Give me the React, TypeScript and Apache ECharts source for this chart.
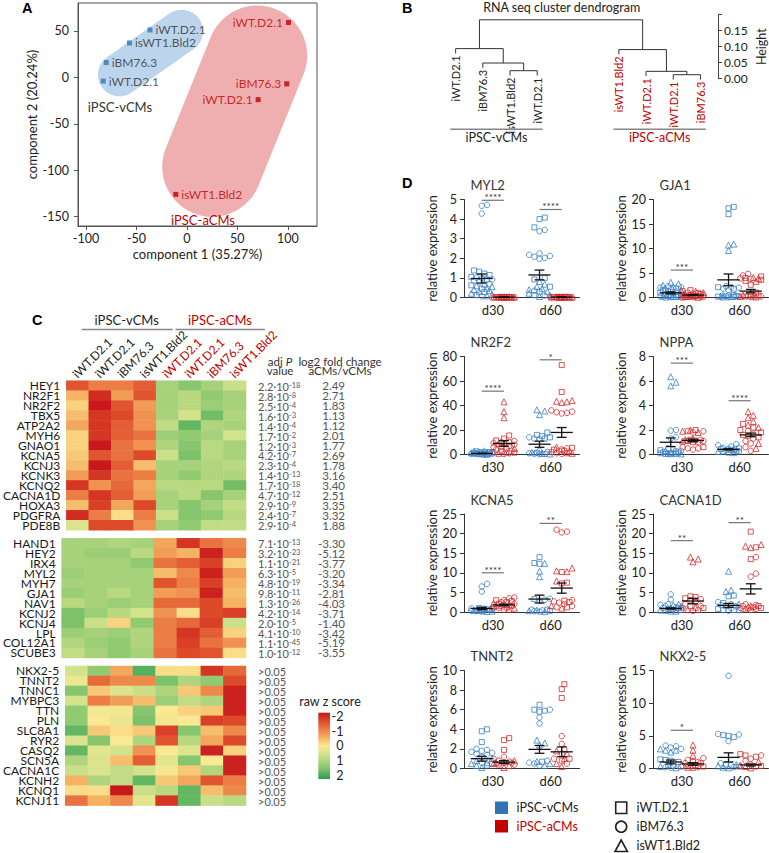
import React, { useEffect, useRef } from "react";
import * as echarts from "echarts";

const FONT = "Lato, 'Open Sans', 'Noto Sans', sans-serif";
const BLUE = "#2e75b6";
const RED = "#c00000";
const PT_BLUE = "#3a7fc4";
const PT_RED = "#d42a2a";
const TXT = "#222222";

// ---------------- Panel A: PCA ----------------
const pcaSamples = ["iWT.D2.1", "isWT1.Bld2", "iBM76.3", "iWT.D2.1", "iWT.D2.1", "iBM76.3", "iWT.D2.1", "isWT1.Bld2"];
const pcaGroups = ["v", "v", "v", "v", "a", "a", "a", "a"];
const pcaComp1 = [-36.6, -57, -80, -83, 100.7, 99, 70.6, -11];
const pcaComp2 = [51, 37, 16, -4, 59, -7, -24, -126];
const pcaLabelSide = ["right", "right", "right", "right", "left", "left", "left", "right"];
const pcaXTicks = [-100, -50, 0, 50, 100];
const pcaYTicks = [-150, -100, -50, 0, 50];
const pcaClusterNames = ["iPSC-vCMs", "iPSC-aCMs"];
const pcaClusterCentre1 = [-36.1, 47.4];
const pcaClusterCentre2 = [26.2, -36.4];
const pcaClusterLabel1 = [-66.4, 15.9];
const pcaClusterLabel2 = [-32, -153.6];

// ---------------- Panel B: dendrogram ----------------
const dendroLeafLabels = ["iWT.D2.1", "iBM76.3", "isWT1.Bld2", "iWT.D2.1", "isWT1.Bld2", "iWT.D2.1", "iWT.D2.1", "iBM76.3"];
const dendroLeafGroups = ["v", "v", "v", "v", "a", "a", "a", "a"];
const dendroLeafOrder = [0, 1, 2, 3, 6, 7, 8, 9];
const dendroMergeLeft = [-3, -2, -1, -7, -6, -5, 3];
const dendroMergeRight = [-4, 1, 2, -8, 4, 5, 6];
const dendroMergeHeight = [0.025, 0.049, 0.094, 0.0125, 0.023, 0.091, 0.184];
const dendroHang = 0.015;
const dendroGroupNames = ["iPSC-vCMs", "iPSC-aCMs"];
const dendroGroupFrom = [-0.2, 5.8];
const dendroGroupTo = [3.2, 9.2];

// ---------------- Panel C: heatmap ----------------
const heatSamples = ["iWT.D2.1", "iWT.D2.1", "iBM76.3", "isWT1.Bld2", "iWT.D2.1", "iWT.D2.1", "iBM76.3", "isWT1.Bld2"];
const heatSampleGroups = ["v", "v", "v", "v", "a", "a", "a", "a"];
const genesUp = ["HEY1", "NR2F1", "NR2F2", "TBX5", "ATP2A2", "MYH6", "GNAO1", "KCNA5", "KCNJ3", "KCNK3", "KCNQ2", "CACNA1D", "HOXA3", "PDGFRA", "PDE8B"];
const zUp = [
  [-1.4, -1.0, -1.0, -1.3, 1.0, 1.3, 1.0, 0.6],
  [-0.5, -1.8, -0.7, -1.4, 1.0, 0.8, 1.2, 1.0],
  [-0.2, -2.0, -1.4, -0.7, 1.0, 0.8, 1.1, 1.0],
  [-0.4, -1.7, -1.5, -0.8, 1.0, 0.5, 1.5, 0.9],
  [-0.6, -1.7, -1.3, -0.8, 0.7, 1.6, 0.9, 1.0],
  [-0.2, -1.7, -1.3, -1.1, 1.1, 1.2, 1.0, 0.5],
  [-0.2, -2.0, -1.1, -0.8, 0.9, 1.3, 0.8, 1.0],
  [-0.3, -1.4, -1.1, -1.5, 0.6, 1.4, 0.8, 1.0],
  [-0.4, -2.0, -1.3, -0.4, 1.0, 1.0, 0.9, 0.8],
  [-0.7, -1.7, -1.1, -1.0, 1.0, 1.2, 0.9, 0.9],
  [-1.7, -0.8, -1.2, -0.6, 0.8, 0.8, 0.8, 1.5],
  [-1.0, -1.7, -1.3, -0.7, 1.0, 0.8, 1.3, 1.0],
  [-0.4, -1.6, -0.6, -1.5, 1.0, 1.3, 1.0, 0.7],
  [-1.8, -1.0, -0.1, -1.0, 0.6, 1.3, 1.2, 0.8],
  [0.4, -1.5, -1.5, -0.8, 1.0, 1.2, 0.7, 0.7],
];
const pUp = ["2.2e-18", "2.8e-8", "2.5e-4", "1.6e-3", "1.4e-4", "1.7e-2", "1.2e-3", "4.2e-7", "2.3e-4", "1.4e-13", "1.7e-18", "4.7e-12", "2.9e-9", "2.4e-7", "2.9e-4"];
const fcUp = ["2.49", "2.71", "1.83", "1.13", "1.12", "2.01", "1.77", "2.69", "1.78", "3.16", "3.40", "2.51", "3.35", "3.32", "1.88"];

const genesDown = ["HAND1", "HEY2", "IRX4", "MYL2", "MYH7", "GJA1", "NAV1", "KCNJ2", "KCNJ4", "LPL", "COL12A1", "SCUBE3"];
const zDown = [
  [1.0, 1.0, 0.9, 1.0, -0.6, -1.7, -1.1, -0.9],
  [1.0, 1.1, 1.1, 0.8, -0.7, -0.5, -1.9, -1.0],
  [1.0, 1.0, 1.0, 1.2, -1.1, -1.3, -1.6, -0.2],
  [1.1, 1.0, 1.0, 1.0, -0.4, -0.9, -1.9, -0.7],
  [1.0, 1.0, 1.0, 1.0, -1.4, -1.0, -1.6, -0.5],
  [1.1, 1.0, 0.8, 1.0, -0.7, -0.8, -1.9, -0.4],
  [0.8, 1.0, 1.1, 1.0, -1.2, -1.2, -1.5, -0.5],
  [1.4, 1.1, 0.8, 0.5, -0.8, -0.1, -1.5, -1.6],
  [1.4, 0.6, -0.2, 1.2, -1.0, -1.2, -1.6, 0.6],
  [1.1, 1.0, 1.1, 0.9, -1.0, -1.7, -1.3, -0.2],
  [0.9, 1.1, 1.2, 0.9, -1.0, -1.6, -1.1, -0.8],
  [0.7, 1.0, 1.2, 1.0, -1.1, -1.5, -1.4, -0.1],
];
const pDown = ["7.1e-13", "3.2e-23", "1.1e-21", "6.3e-5", "4.8e-19", "9.8e-11", "1.3e-26", "4.2e-14", "2.0e-5", "4.1e-10", "1.1e-45", "1.0e-12"];
const fcDown = ["-3.30", "-5.12", "-3.77", "-3.20", "-3.34", "-2.81", "-4.03", "-3.71", "-1.40", "-3.42", "-5.19", "-3.55"];

const genesNS = ["NKX2-5", "TNNT2", "TNNC1", "MYBPC3", "TTN", "PLN", "SLC8A1", "RYR2", "CASQ2", "SCN5A", "CACNA1C", "KCNH2", "KCNQ1", "KCNJ11"];
const zNS = [
  [0.5, 1.2, -0.6, 1.7, -0.1, -0.1, -1.7, -1.2],
  [0.2, -1.2, -0.9, -0.9, 1.4, 0.9, 1.2, -1.5],
  [1.3, -0.3, 0.4, 0.6, 0.9, -0.3, -0.9, -1.9],
  [0.5, -1.0, -0.7, -0.4, 1.1, 0.7, 0.9, -1.9],
  [1.2, 0.1, 0.1, 1.3, 0.0, -0.2, -0.3, -1.9],
  [1.2, 0.0, 0.2, 1.4, 0.1, 0.0, -1.6, -1.5],
  [1.6, -0.3, -0.1, -0.3, -1.6, 1.3, -0.4, -0.9],
  [0.4, 1.3, 0.0, 0.9, -1.4, 0.8, -0.6, -1.5],
  [1.6, 0.3, 0.5, -0.8, 0.0, 0.4, -1.9, -0.2],
  [0.9, 0.4, -0.4, -1.3, 0.3, 1.3, 0.0, -1.9],
  [0.6, 0.4, 0.7, 0.5, 0.1, -0.3, 0.9, -1.9],
  [-0.5, 0.9, 0.7, 1.6, -0.3, -0.6, -1.4, -1.0],
  [-0.1, -0.1, -2.0, 0.6, 0.8, 1.6, -0.4, -0.9],
  [-1.1, -0.5, -0.9, 0.3, -1.7, 1.6, 0.6, 0.8],
];
const pNS = [">0.05", ">0.05", ">0.05", ">0.05", ">0.05", ">0.05", ">0.05", ">0.05", ">0.05", ">0.05", ">0.05", ">0.05", ">0.05", ">0.05"];
const fcNS = ["", "", "", "", "", "", "", "", "", "", "", "", "", ""];
const heatLegendTicks = [-2, -1, 0, 1, 2];
const heatColors = ["#c8181c", "#dd4a2a", "#ec7d45", "#f5b262", "#fbe893", "#d3e38b", "#a7d27b", "#72bd65", "#2a9d56"];

// ---------------- Panel D: qPCR ----------------
const dGenes = ["MYL2", "GJA1", "NR2F2", "NPPA", "KCNA5", "CACNA1D", "TNNT2", "NKX2-5"];
const dYMax = [5, 20, 80, 8, 25, 25, 10, 15];
const dYStep = [1, 5, 20, 2, 5, 5, 2, 5];
const dTimepoints = ["d30", "d60"];
const dLines = ["iWT.D2.1", "iBM76.3", "isWT1.Bld2"];
// each: [v30, a30, v60, a60], each group: [iWT.D2.1 squares, iBM76.3 circles, isWT1.Bld2 triangles]
const ptsMYL2 = [
  [[1.38, 1.32, 1.22, 1.15, 1.05, 0.92, 0.62, 0.45, 0.28, 0.12], [4.72, 4.68, 4.28, 1.02, 0.98, 0.92, 0.85, 0.78, 0.7, 0.05], [0.68, 0.6, 0.55, 0.47, 0.4, 0.35, 0.3, 0.22, 0.15, 0.08]],
  [[0.03, 0.02, 0.02, 0.01, 0.03, 0.02, 0.01, 0.02], [0.02, 0.01, 0.03, 0.02, 0.01, 0.02, 0.03, 0.01], [0.01, 0.02, 0.02, 0.03, 0.01, 0.02, 0.01, 0.02]],
  [[4.08, 4.0, 3.58, 1.0, 0.92, 0.55, 0.3, 0.12], [3.45, 3.38, 2.25, 2.18, 2.12, 2.08, 2.02, 1.98, 0.35, 0.1], [0.82, 0.68, 0.56, 0.45, 0.4, 0.3, 0.22, 0.12, 0.05]],
  [[0.03, 0.02, 0.02, 0.01, 0.03, 0.02, 0.01, 0.02], [0.02, 0.01, 0.03, 0.02, 0.01, 0.02, 0.03, 0.01], [0.01, 0.02, 0.02, 0.03, 0.01, 0.02, 0.01, 0.02]],
];
const ptsGJA1 = [
  [[1.2, 1.0, 0.8, 0.6, 0.45, 0.3, 0.2, 0.1, 0.05], [2.3, 2.1, 2.0, 1.9, 1.7, 1.5, 1.2, 0.5, 0.3, 0.2], [3.1, 2.8, 2.5, 2.2, 1.9, 1.5, 0.6, 0.35, 0.2, 0.1]],
  [[1.5, 1.3, 0.9, 0.7, 0.5, 0.3, 0.2, 0.1], [1.0, 0.8, 0.6, 0.45, 0.3, 0.2, 0.15, 0.1, 0.05], [1.3, 1.0, 0.75, 0.5, 0.3, 0.2, 0.1, 0.05]],
  [[18.5, 18.2, 17.0, 2.1, 1.8, 0.5, 0.3, 0.2, 0.1], [2.3, 2.1, 2.0, 1.8, 1.5, 0.4, 0.25, 0.15, 0.05], [10.9, 10.7, 9.6, 0.5, 0.3, 0.2, 0.1]],
  [[4.3, 4.0, 3.6, 3.4, 2.6, 1.0, 0.4, 0.2], [4.8, 4.5, 3.9, 3.8, 0.6, 0.35, 0.2, 0.1], [4.1, 3.9, 3.3, 0.5, 0.3, 0.2, 0.1]],
];
const ptsNR2F2 = [
  [[2.6, 2.0, 1.5, 1.0, 0.6, 0.3, 0.1], [2.0, 1.8, 1.5, 1.2, 1.0, 0.8, 0.5, 0.3], [3.0, 2.5, 2.0, 1.5, 1.0, 0.5, 0.2]],
  [[15.5, 13, 11.5, 10, 6, 3, 1.5], [11, 10, 9.5, 9, 8, 7, 6, 5, 4, 3, 2, 1, 0.5], [43, 35, 30, 9, 5, 2, 1]],
  [[18, 16, 15, 14, 13, 1.5, 0.5], [14, 13, 12.5, 3, 2, 1, 0.5, 0.2], [36.5, 35.5, 32.5, 2, 1, 0.5]],
  [[73, 51, 5.5, 4, 3, 1], [36, 35, 34.5, 34, 33.5, 5, 4, 3, 2, 1, 0.5], [44, 43.5, 43, 42.5, 6, 3, 1]],
];
const ptsNPPA = [
  [[0.35, 0.25, 0.15, 0.1, 0.05, 0.05, 0.02], [2.0, 1.95, 1.4, 1.3, 0.5, 0.4, 0.3, 0.2, 0.1], [6.35, 5.9, 5.6, 0.3, 0.2, 0.1, 0.05]],
  [[2.0, 1.9, 1.2, 1.1, 1.0, 0.6], [1.9, 1.8, 1.2, 1.15, 1.1, 1.0, 0.6, 0.5, 0.5, 0.4], [2.0, 1.9, 1.8, 1.3, 1.2, 1.1]],
  [[0.5, 0.45, 0.35, 0.25, 0.15], [0.85, 0.75, 0.65, 0.55, 0.45, 0.35, 0.25], [0.45, 0.35, 0.25, 0.15]],
  [[2.5, 2.2, 2.0, 1.8, 1.6, 1.4], [1.9, 1.7, 1.5, 1.3, 1.1, 0.9, 0.6, 0.3], [3.5, 3.2, 3.0, 2.7, 2.4, 2.2, 0.9, 0.5]],
];
const ptsKCNA5 = [
  [[1.0, 0.8, 0.6, 0.4, 0.2], [7.2, 6.5, 5.2, 0.9, 0.7, 0.5, 0.3, 0.1], [0.9, 0.7, 0.5, 0.4, 0.2, 0.1]],
  [[3.0, 2.8, 2.5, 2.1, 1.6, 1.2], [3.7, 3.5, 3.0, 2.5, 2.1, 1.8, 1.5, 1.0, 0.6], [2.2, 1.9, 1.6, 1.3, 1.0, 0.7]],
  [[14.0, 12.5, 12.3, 3.3, 0.6, 0.3], [3.4, 3.1, 2.8, 0.6, 0.4, 0.2, 0.1], [12.4, 10.4, 9.0, 0.5, 0.3, 0.1]],
  [[10.2, 7.5, 7.3, 2.9, 2.5, 1.2], [20.5, 20.3, 21.0, 3.0, 2.7, 2.4, 2.0, 1.5, 1.2], [11.2, 10.5, 10.3, 7.9, 1.6, 1.0]],
];
const ptsCACNA1D = [
  [[1.0, 0.8, 0.5, 0.3, 0.1], [4.5, 3.2, 2.0, 1.8, 1.5, 1.2, 1.0, 0.6], [2.0, 1.8, 1.5, 1.0, 0.5, 0.2]],
  [[4.0, 3.8, 3.5, 1.5, 1.0], [3.3, 3.0, 2.5, 2.0, 1.5, 1.0, 0.5, 0.3], [14.0, 13.5, 12.8, 1.2, 0.6]],
  [[4.2, 4.0, 2.3, 1.5, 0.8, 0.5], [2.5, 2.0, 1.8, 1.5, 1.0, 0.5, 0.3], [10.4, 5.6, 5.2, 2.0, 0.6]],
  [[20.5, 16.5, 13.5, 1.5, 1.2, 1.0], [14.0, 9.8, 9.0, 2.0, 1.8, 1.5, 1.0, 0.8, 0.5], [17.2, 16.8, 16.4, 1.6, 1.2, 0.8]],
];
const ptsTNNT2 = [
  [[4.0, 3.8, 2.7, 0.5, 0.3], [2.0, 1.9, 1.8, 1.7, 1.6, 1.5, 1.4, 1.2, 0.6], [1.0, 0.8, 0.6, 0.5, 0.3, 0.1]],
  [[3.1, 2.9, 1.9, 0.6, 0.4], [1.2, 1.0, 0.8, 0.7, 0.6, 0.4], [0.8, 0.6, 0.5, 0.3, 0.1]],
  [[6.5, 6.0, 5.9, 5.8, 0.7], [6.0, 5.2, 4.6, 0.8, 0.6, 0.5, 0.3], [2.9, 2.6, 2.4, 0.7, 0.5, 0.3]],
  [[8.6, 8.1, 7.2, 1.0, 0.8], [3.3, 2.5, 2.0, 1.5, 1.0, 0.5], [1.8, 1.5, 1.0, 0.5, 0.2]],
];
const ptsNKX25 = [
  [[1.4, 1.3, 1.2, 1.0, 0.5, 0.3], [3.5, 3.4, 3.2, 3.0, 0.4, 0.2, 0.1], [3.0, 2.8, 2.8, 2.5, 0.3, 0.1]],
  [[1.0, 0.8, 0.5, 0.3, 0.1], [1.6, 1.3, 1.0, 0.8, 0.4, 0.2], [3.6, 2.8, 2.0, 0.5, 0.2]],
  [[5.0, 4.8, 5.1, 0.6, 0.3], [14.2, 5.3, 5.2, 4.2, 0.8, 0.5, 0.2], [0.6, 0.4, 0.2, 0.1]],
  [[2.2, 2.0, 1.8, 0.4], [2.0, 1.5, 1.2, 0.6, 0.3], [1.0, 0.5, 0.3, 0.1]],
];
const dPoints = [ptsMYL2, ptsGJA1, ptsNR2F2, ptsNPPA, ptsKCNA5, ptsCACNA1D, ptsTNNT2, ptsNKX25];
const dMeans = [
  [0.97, 0.02, 1.15, 0.02],
  [0.95, 0.5, 3.6, 1.3],
  [0.9, 9.0, 8.4, 18],
  [1.0, 1.15, 0.42, 1.6],
  [0.9, 1.8, 3.3, 6.1],
  [0.9, 2.8, 1.7, 5.9],
  [1.0, 0.65, 1.95, 1.7],
  [1.0, 0.7, 1.7, 0.55],
];
const dSems = [
  [0.23, 0.005, 0.25, 0.005],
  [0.2, 0.1, 1.2, 0.35],
  [0.2, 2.3, 2.5, 4.0],
  [0.35, 0.1, 0.05, 0.15],
  [0.3, 0.2, 1.0, 1.3],
  [0.15, 0.7, 0.5, 1.3],
  [0.25, 0.15, 0.4, 0.5],
  [0.3, 0.2, 0.7, 0.15],
];
const dSig = [
  [[0, 1, 4.96, "****"], [2, 3, 4.49, "****"]],
  [[0, 1, 5.6, "***"]],
  [[0, 1, 51.7, "****"], [2, 3, 77.3, "*"]],
  [[0, 1, 7.46, "***"], [2, 3, 4.39, "****"]],
  [[0, 1, 10.0, "****"], [2, 3, 22.6, "**"]],
  [[0, 1, 18.2, "**"], [2, 3, 22.8, "**"]],
  [],
  [[0, 1, 5.85, "*"]],
];

// ---------- layout (pixels) ----------
const D_COL_LEFT = [464, 653];
const D_ROW_TOP = [199.5, 356.5, 514, 670.5];
const D_W = 115.5;
const D_H = 98;
const D_XMIN = -0.8;
const D_XMAX = 4.4;
const D_GROUP_X = [0, 1, 2.6, 3.6];
const SHAPES = ["rect", "circle", "triangle"];
const SHAPE_SIZE = [5, 5.5, 6];

function swarmOffsets(vals: number[], pxY: number, pxX: number): number[] {
  const order = vals.map((_, i) => i).sort((a, b) => vals[a] - vals[b]);
  const placed: number[][] = [];
  const out = new Array(vals.length).fill(0);
  const step = 2.6;
  const cands = [0];
  for (let k = 1; k <= 4; k++) cands.push(k * step, -k * step);
  for (const i of order) {
    const y = vals[i] * pxY;
    let best = 0;
    let bestD = -1;
    for (const c of cands) {
      let d = Infinity;
      for (const p of placed) {
        const dd = Math.hypot(p[0] - c, p[1] - y);
        if (dd < d) d = dd;
      }
      if (d >= 5) {
        best = c;
        bestD = d;
        break;
      }
      if (d > bestD) {
        bestD = d;
        best = c;
      }
    }
    placed.push([best, y]);
    out[i] = best / pxX;
  }
  return out;
}

function formatP(s: string): string {
  if (s.startsWith(">")) return "{b|" + s + "}";
  const [m, e] = s.split("e");
  return "{b|" + m + "·10}{s|" + e + "}";
}

function buildOption() {
  const grid: any[] = [];
  const xAxis: any[] = [];
  const yAxis: any[] = [];
  const series: any[] = [];
  const graphic: any[] = [];
  const push = (arr: any[], o: any) => {
    arr.push(o);
    return arr.length - 1;
  };
  const ts = (size: number, color = TXT, extra: any = {}) => ({ fontSize: size, color, fontFamily: FONT, ...extra });

  // ================= Panel A =================
  const gA = push(grid, { left: 78, top: 3, width: 239, height: 223, show: true, borderColor: "#555", borderWidth: 1, backgroundColor: "transparent" });
  const xA = push(xAxis, {
    gridIndex: gA, type: "value", min: -108, max: 129,
    splitLine: { show: false },
    axisLine: { onZero: false, lineStyle: { color: "#555" } },
    axisTick: { customValues: pcaXTicks, length: 4, lineStyle: { color: "#555" } },
    axisLabel: { customValues: pcaXTicks, margin: 6, ...ts(12.5) },
    name: "component 1 (35.27%)", nameLocation: "middle", nameGap: 21, nameTextStyle: ts(13),
  });
  const yA = push(yAxis, {
    gridIndex: gA, type: "value", min: -160, max: 80,
    splitLine: { show: false },
    axisLine: { onZero: false, lineStyle: { color: "#555" } },
    axisTick: { customValues: pcaYTicks, length: 4, lineStyle: { color: "#555" } },
    axisLabel: { customValues: pcaYTicks, margin: 9, ...ts(12.5) },
    name: "component 2 (20.24%)", nameLocation: "middle", nameGap: 40, nameTextStyle: ts(13),
  });
  const blobStyle = [
    { len: 119, wid: 43, rot: (35 * Math.PI) / 180, fill: "#bcd5ec" },
    { len: 220, wid: 100, rot: (68 * Math.PI) / 180, fill: "#efafb0" },
  ];
  series.push({
    type: "custom", xAxisIndex: xA, yAxisIndex: yA, silent: true, z: 1,
    encode: { x: 0, y: 1 },
    data: pcaClusterNames.map((_, i) => [pcaClusterCentre1[i], pcaClusterCentre2[i], i]),
    renderItem: (params: any, api: any) => {
      const i = api.value(2);
      const c = api.coord([api.value(0), api.value(1)]);
      const b = blobStyle[i];
      return {
        type: "rect", x: c[0], y: c[1], rotation: b.rot,
        shape: { x: -b.len / 2, y: -b.wid / 2, width: b.len, height: b.wid, r: b.wid / 2 },
        style: { fill: b.fill },
      };
    },
  });
  series.push({
    type: "custom", xAxisIndex: xA, yAxisIndex: yA, silent: true, z: 3,
    encode: { x: 0, y: 1 },
    data: pcaClusterNames.map((_, i) => [pcaClusterLabel1[i], pcaClusterLabel2[i], i]),
    renderItem: (params: any, api: any) => {
      const i = api.value(2);
      const c = api.coord([api.value(0), api.value(1)]);
      return {
        type: "text", x: c[0], y: c[1],
        style: { text: pcaClusterNames[i], fill: i === 0 ? "#333" : RED, fontSize: 13, fontFamily: FONT, align: "center", verticalAlign: "middle" },
      };
    },
  });
  ["v", "a"].forEach((grp) => {
    const data = pcaSamples
      .map((name, i) => ({ i, name }))
      .filter((d) => pcaGroups[d.i] === grp)
      .map((d) => ({
        name: d.name,
        value: [pcaComp1[d.i], pcaComp2[d.i]],
        label: { position: pcaLabelSide[d.i] },
      }));
    series.push({
      type: "scatter", xAxisIndex: xA, yAxisIndex: yA, z: 4, silent: true,
      symbol: "rect", symbolSize: 5,
      itemStyle: { color: grp === "v" ? BLUE : RED },
      label: { show: true, formatter: "{b}", distance: 3, fontSize: 12, fontFamily: FONT, color: grp === "v" ? "#333" : RED },
      data,
    });
  });

  // ================= Panel B =================
  const gB = push(grid, { left: 440, top: 14.7, width: 279, height: 64 });
  const xB = push(xAxis, { gridIndex: gB, type: "value", min: -0.575, max: 9.645, show: false });
  const yB = push(yAxis, {
    gridIndex: gB, type: "value", position: "right", min: 0, max: 0.2, interval: 0.05,
    splitLine: { show: false },
    axisLine: { show: true, onZero: false, lineStyle: { color: "#444" } },
    axisTick: { show: true, length: 4, lineStyle: { color: "#444" } },
    axisLabel: { margin: 6, formatter: (v: number) => (v > 0.19 ? "" : v.toFixed(2)), ...ts(12) },
    name: "Height", nameLocation: "middle", nameGap: 37, nameRotate: 90, nameTextStyle: ts(12.5),
  });
  const nodeX: number[] = [];
  const nodeXOf = (ref: number) => (ref < 0 ? dendroLeafOrder[-ref - 1] : nodeX[ref - 1]);
  const segs: number[][] = [];
  const leafBottom: number[] = new Array(dendroLeafLabels.length).fill(0);
  dendroMergeHeight.forEach((h, m) => {
    const l = dendroMergeLeft[m];
    const r = dendroMergeRight[m];
    const xl = nodeXOf(l);
    const xr = nodeXOf(r);
    const bl = l < 0 ? h - dendroHang : dendroMergeHeight[l - 1];
    const br = r < 0 ? h - dendroHang : dendroMergeHeight[r - 1];
    if (l < 0) leafBottom[-l - 1] = bl;
    if (r < 0) leafBottom[-r - 1] = br;
    nodeX.push((xl + xr) / 2);
    segs.push([xl, bl, xr, br, h]);
  });
  series.push({
    type: "custom", xAxisIndex: xB, yAxisIndex: yB, silent: true, clip: false,
    encode: { x: 0, y: 1 },
    data: segs,
    renderItem: (params: any, api: any) => {
      const xl = api.value(0), bl = api.value(1), xr = api.value(2), br = api.value(3), h = api.value(4);
      return {
        type: "polyline",
        shape: { points: [api.coord([xl, bl]), api.coord([xl, h]), api.coord([xr, h]), api.coord([xr, br])] },
        style: { stroke: "#333", lineWidth: 1, fill: "none" },
      };
    },
  });
  series.push({
    type: "custom", xAxisIndex: xB, yAxisIndex: yB, silent: true, clip: false,
    encode: { x: 0, y: 1 },
    data: dendroLeafLabels.map((_, i) => [dendroLeafOrder[i], leafBottom[i], i]),
    renderItem: (params: any, api: any) => {
      const i = api.value(2);
      const c = api.coord([api.value(0), api.value(1)]);
      return {
        type: "text", x: c[0], y: c[1] + 2, rotation: Math.PI / 2,
        style: {
          text: dendroLeafLabels[i], fill: dendroLeafGroups[i] === "v" ? TXT : RED,
          fontSize: 11, fontFamily: FONT, align: "right", verticalAlign: "middle",
        },
      };
    },
  });
  series.push({
    type: "custom", xAxisIndex: xB, yAxisIndex: yB, silent: true, clip: false,
    encode: { x: 0, y: 1 },
    data: dendroGroupNames.map((_, i) => [dendroGroupFrom[i], 0, dendroGroupTo[i], i]),
    renderItem: (params: any, api: any) => {
      const i = api.value(3);
      const a = api.coord([api.value(0), 0]);
      const b = api.coord([api.value(2), 0]);
      return {
        type: "group",
        children: [
          { type: "line", shape: { x1: a[0], y1: a[1] + 50.5, x2: b[0], y2: a[1] + 50.5 }, style: { stroke: "#888", lineWidth: 1.5 } },
          {
            type: "text", x: (a[0] + b[0]) / 2, y: a[1] + 59,
            style: { text: dendroGroupNames[i], fill: i === 0 ? TXT : RED, fontSize: 12.5, fontFamily: FONT, align: "center", verticalAlign: "middle" },
          },
        ],
      };
    },
  });

  // ================= Panel C =================
  const blocks = [
    { genes: genesUp, z: zUp, p: pUp, fc: fcUp, top: 380.7 },
    { genes: genesDown, z: zDown, p: pDown, fc: fcDown, top: 538.3 },
    { genes: genesNS, z: zNS, p: pNS, fc: fcNS, top: 666 },
  ];
  const heatSeriesIdx: number[] = [];
  blocks.forEach((blk, bi) => {
    const g = push(grid, { left: 58.3, top: blk.top, width: 187.7, height: blk.genes.length * 9.97 });
    const xh = push(xAxis, {
      gridIndex: g, type: "category", data: heatSamples, position: "top",
      axisLine: { show: false }, axisTick: { show: false }, splitLine: { show: false },
      axisLabel: { show: false },
    });
    const yh = push(yAxis, {
      gridIndex: g, type: "category", data: blk.genes, inverse: true,
      axisLine: { show: false }, axisTick: { show: false }, splitLine: { show: false },
      axisLabel: { interval: 0, margin: 6, fontSize: 12, lineHeight: 10, fontFamily: FONT, color: "#1a1a1a" },
    });
    push(yAxis, {
      gridIndex: g, type: "category", data: blk.p, inverse: true, position: "right",
      axisLine: { show: false }, axisTick: { show: false }, splitLine: { show: false },
      axisLabel: {
        interval: 0, margin: 12, formatter: (v: string) => formatP(v),
        rich: {
          b: { fontSize: 11, fontFamily: FONT, color: "#555", lineHeight: 9, padding: [1, 0, 0, 0] },
          s: { fontSize: 7.5, fontFamily: FONT, color: "#555", lineHeight: 6, verticalAlign: "top" },
        },
      },
    });
    push(yAxis, {
      gridIndex: g, type: "category", data: blk.fc, inverse: true, position: "right", offset: 97,
      axisLine: { show: false }, axisTick: { show: false }, splitLine: { show: false },
      axisLabel: { interval: 0, margin: 2, align: "right", fontSize: 11.5, lineHeight: 10, fontFamily: FONT, color: "#555" },
    });
    const data: number[][] = [];
    blk.z.forEach((row, r) => row.forEach((v, c) => data.push([c, r, v])));
    heatSeriesIdx.push(series.length);
    series.push({ type: "heatmap", xAxisIndex: xh, yAxisIndex: yh, data, silent: true, itemStyle: { borderWidth: 0 } });
    if (bi === 0) {
      series.push({
        type: "custom", xAxisIndex: xh, yAxisIndex: yh, silent: true, clip: false, z: 5,
        encode: { x: 0, y: 1 },
        data: heatSamples.map((_, i) => [i, 0, i]),
        renderItem: (params: any, api: any) => {
          const i = api.value(2);
          const c = api.coord([api.value(0), 0]);
          const h = api.size([0, 1])[1];
          return {
            type: "text", x: c[0] - 3, y: c[1] - h / 2 - 5, rotation: Math.PI / 4,
            style: {
              text: heatSamples[i], fill: heatSampleGroups[i] === "v" ? TXT : RED,
              fontSize: 12, fontFamily: FONT, align: "left", verticalAlign: "middle",
            },
          };
        },
      });
    }
  });

  // ================= Panel D =================
  dGenes.forEach((gene, k) => {
    const col = k % 2;
    const row = Math.floor(k / 2);
    const left = D_COL_LEFT[col];
    const top = D_ROW_TOP[row];
    const g = push(grid, { left, top, width: D_W, height: D_H });
    push(xAxis, {
      gridIndex: g, type: "category", data: dTimepoints, position: "bottom",
      axisLine: { onZero: false, lineStyle: { color: "#333", width: 1 } },
      axisTick: { show: false }, splitLine: { show: false },
      axisLabel: { margin: 6, ...ts(13) },
    });
    const xv = push(xAxis, { gridIndex: g, type: "value", min: D_XMIN, max: D_XMAX, show: false });
    const yv = push(yAxis, {
      gridIndex: g, type: "value", min: 0, max: dYMax[k], interval: dYStep[k],
      splitLine: { show: false },
      axisLine: { show: true, onZero: false, lineStyle: { color: "#333" } },
      axisTick: { show: true, length: 4, lineStyle: { color: "#333" } },
      axisLabel: { margin: 7, ...ts(12.5) },
      name: "relative expression", nameLocation: "middle", nameGap: 26, nameTextStyle: ts(13),
    });
    const pxY = D_H / dYMax[k];
    const pxX = D_W / (D_XMAX - D_XMIN);
    const buckets: any[][][] = [0, 1].map(() => [0, 1, 2].map(() => [] as any[]));
    dPoints[k].forEach((grpPts, gi) => {
      const flat: number[] = [];
      const shapeOf: number[] = [];
      grpPts.forEach((vals, s) => vals.forEach((v) => { flat.push(v); shapeOf.push(s); }));
      const offs = swarmOffsets(flat, pxY, pxX);
      flat.forEach((v, i) => {
        buckets[gi % 2][shapeOf[i]].push([D_GROUP_X[gi] + offs[i], v]);
      });
    });
    [0, 1].forEach((ci) => {
      [0, 1, 2].forEach((s) => {
        series.push({
          type: "scatter", xAxisIndex: xv, yAxisIndex: yv, silent: true, z: 3,
          name: dLines[s], symbol: SHAPES[s], symbolSize: SHAPE_SIZE[s],
          itemStyle: { color: "rgba(255,255,255,0)", borderColor: ci === 0 ? PT_BLUE : PT_RED, borderWidth: 1 },
          data: buckets[ci][s],
        });
      });
    });
    series.push({
      type: "custom", xAxisIndex: xv, yAxisIndex: yv, silent: true, z: 5,
      encode: { x: 0, y: 1 },
      data: D_GROUP_X.map((x, gi) => [x, dMeans[k][gi], dSems[k][gi]]),
      renderItem: (params: any, api: any) => {
        const x = api.value(0), m = api.value(1), s = api.value(2);
        const L = api.coord([x - 0.5, m]), R = api.coord([x + 0.5, m]);
        const T = api.coord([x, m + s]), B = api.coord([x, m - s]);
        const cw = 0.22 * pxX;
        const st = { stroke: "#111", lineWidth: 1.3 };
        return {
          type: "group",
          children: [
            { type: "line", shape: { x1: L[0], y1: L[1], x2: R[0], y2: R[1] }, style: st },
            { type: "line", shape: { x1: T[0], y1: T[1], x2: B[0], y2: B[1] }, style: st },
            { type: "line", shape: { x1: T[0] - cw, y1: T[1], x2: T[0] + cw, y2: T[1] }, style: st },
            { type: "line", shape: { x1: B[0] - cw, y1: B[1], x2: B[0] + cw, y2: B[1] }, style: st },
          ],
        };
      },
    });
    if (dSig[k].length) {
      series.push({
        type: "custom", xAxisIndex: xv, yAxisIndex: yv, silent: true, z: 5, clip: false,
        encode: { x: 0, y: 2 },
        data: dSig[k].map((s: any) => [D_GROUP_X[s[0]], D_GROUP_X[s[1]], s[2], s[3].length]),
        renderItem: (params: any, api: any) => {
          const a = api.coord([api.value(0), api.value(2)]);
          const b = api.coord([api.value(1), api.value(2)]);
          const stars = "*".repeat(api.value(3));
          return {
            type: "group",
            children: [
              { type: "line", shape: { x1: a[0], y1: a[1], x2: b[0], y2: b[1] }, style: { stroke: "#777", lineWidth: 1.2 } },
              { type: "text", x: (a[0] + b[0]) / 2, y: a[1] - 3, style: { text: stars, fill: "#333", fontSize: 10, fontFamily: FONT, align: "center", verticalAlign: "middle" } },
            ],
          };
        },
      });
    }
    graphic.push({ type: "text", left: left + 6.5, top: top - 21, style: { text: gene, fill: "#333", fontSize: 13, fontFamily: FONT } });
  });

  // ================= Graphic annotations =================
  const letter = (t: string, x: number, y: number) => ({
    type: "text", left: x, top: y,
    style: { text: t, fill: "#000", fontSize: 14.5, fontWeight: "bold", fontFamily: "'Liberation Sans', Arial, sans-serif" },
  });
  graphic.push(letter("A", 22, 0), letter("B", 402, 0), letter("C", 32, 312), letter("D", 402, 175));
  graphic.push({ type: "text", x: 561.7, y: 7.5, style: { text: "RNA seq cluster dendrogram", fill: TXT, fontSize: 12.5, fontFamily: FONT, align: "center", verticalAlign: "middle" } });
  graphic.push({ type: "text", x: 126.7, y: 320, style: { text: "iPSC-vCMs", fill: TXT, fontSize: 13, fontFamily: FONT, align: "center", verticalAlign: "middle" } });
  graphic.push({ type: "text", x: 220, y: 320, style: { text: "iPSC-aCMs", fill: RED, fontSize: 13, fontFamily: FONT, align: "center", verticalAlign: "middle" } });
  graphic.push({ type: "line", shape: { x1: 81.7, y1: 329.5, x2: 172.7, y2: 329.5 }, style: { stroke: "#888", lineWidth: 1.5 } });
  graphic.push({ type: "line", shape: { x1: 175.5, y1: 329.5, x2: 265, y2: 329.5 }, style: { stroke: "#888", lineWidth: 1.5 } });
  graphic.push({
    type: "text", x: 280, y: 366,
    style: {
      text: "{n|adj }{i|P}\n{n|value}", align: "center", verticalAlign: "middle",
      rich: { n: { fontSize: 11.5, fontFamily: FONT, fill: "#333", lineHeight: 9.5 }, i: { fontSize: 11.5, fontFamily: FONT, fill: "#333", fontStyle: "italic", lineHeight: 9.5 } },
    },
  });
  graphic.push({
    type: "text", x: 340, y: 366,
    style: { text: "log2 fold change\naCMs/vCMs", align: "center", verticalAlign: "middle", fontSize: 11.5, lineHeight: 9.5, fontFamily: FONT, fill: "#333" },
  });
  const barTop = 712.7, barH = 66.3;
  graphic.push({ type: "text", x: 330, y: 701.7, style: { text: "raw z score", fill: TXT, fontSize: 12.5, fontFamily: FONT, align: "center", verticalAlign: "middle" } });
  graphic.push({
    type: "rect", shape: { x: 318.3, y: barTop, width: 11.7, height: barH },
    style: { fill: new echarts.graphic.LinearGradient(0, 0, 0, 1, heatColors.map((c, i) => ({ offset: i / (heatColors.length - 1), color: c }))) },
  });
  heatLegendTicks.forEach((t, i) => {
    graphic.push({
      type: "text", x: 343.5, y: barTop + 4 + (i * (barH - 8)) / (heatLegendTicks.length - 1),
      style: { text: String(t), fill: TXT, fontSize: 12.5, fontFamily: FONT, align: "right", verticalAlign: "middle" },
    });
  });
  const lg = (t: string, x: number, y: number, c: string) => ({ type: "text", x, y, style: { text: t, fill: c, fontSize: 12.5, fontFamily: FONT, verticalAlign: "middle" } });
  graphic.push({ type: "rect", shape: { x: 495, y: 801.5, width: 13, height: 12.5 }, style: { fill: BLUE } });
  graphic.push({ type: "rect", shape: { x: 495, y: 820, width: 13, height: 12.5 }, style: { fill: RED } });
  graphic.push(lg("iPSC-vCMs", 516.5, 807.7, TXT), lg("iPSC-aCMs", 516.5, 826.3, RED));
  graphic.push({ type: "rect", shape: { x: 615.7, y: 802, width: 11, height: 11.5 }, style: { fill: "none", stroke: "#222", lineWidth: 1.6 } });
  graphic.push({ type: "circle", shape: { cx: 621.2, cy: 826.7, r: 5.5 }, style: { fill: "none", stroke: "#222", lineWidth: 1.6 } });
  graphic.push({ type: "polygon", shape: { points: [[615, 851.5], [627.4, 851.5], [621.2, 840]] }, style: { fill: "none", stroke: "#222", lineWidth: 1.6 } });
  graphic.push(lg(dLines[0], 636.5, 807.7, TXT), lg(dLines[1], 636.5, 826.7, TXT), lg(dLines[2], 636.5, 845.7, TXT));

  return {
    animation: false,
    backgroundColor: "#fff",
    textStyle: { fontFamily: FONT },
    grid, xAxis, yAxis, series, graphic,
    visualMap: [{
      type: "continuous", show: false, min: -2, max: 2, dimension: 2,
      seriesIndex: heatSeriesIdx, inRange: { color: heatColors },
    }],
  };
}

export default function App() {
  const ref = useRef<HTMLDivElement>(null);
  useEffect(() => {
    const chart = echarts.init(ref.current as HTMLDivElement, null, { renderer: "svg" });
    chart.setOption(buildOption() as any);
    return () => chart.dispose();
  }, []);
  return <div ref={ref} style={{ position: "absolute", left: 0, top: 0, width: 769, height: 853, background: "#fff" }} />;
}
